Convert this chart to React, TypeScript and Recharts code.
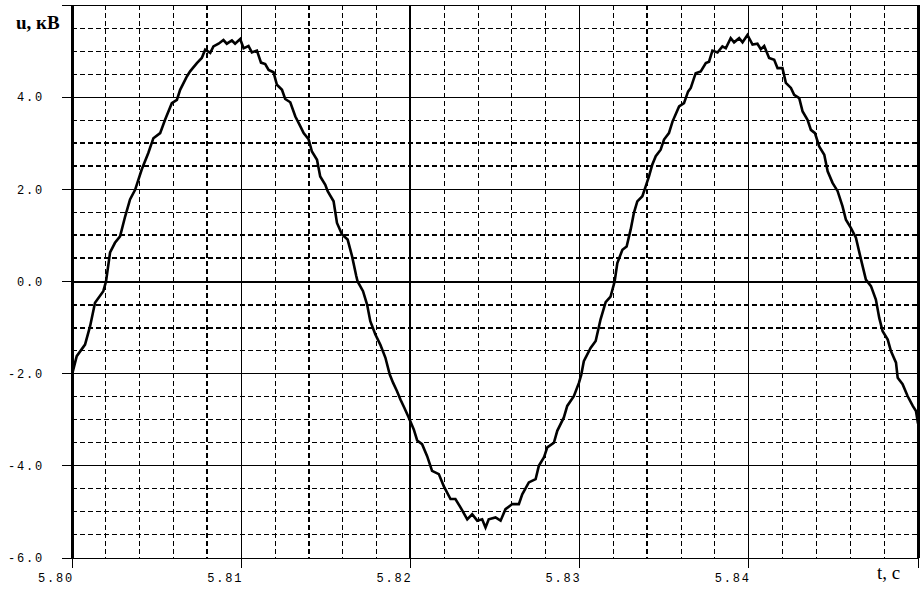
import React from 'react';
import { LineChart, Line, XAxis, YAxis, CartesianGrid } from 'recharts';

// time, s
const times = [
  5.8, 5.80028, 5.80077, 5.80107, 5.80136, 5.80185, 5.80201, 5.80225, 5.80254, 5.80284,
  5.80314, 5.80343, 5.80373, 5.80412, 5.80451, 5.80481, 5.80521, 5.8055, 5.8059, 5.8062,
  5.80639, 5.80679, 5.80698, 5.80738, 5.80767, 5.80787, 5.80817, 5.80836, 5.80866, 5.80895,
  5.80915, 5.80945, 5.80964, 5.80994, 5.81014, 5.81043, 5.81063, 5.81093, 5.81117, 5.81142,
  5.81162, 5.81191, 5.81211, 5.81241, 5.8126, 5.8129, 5.8132, 5.81349, 5.81369, 5.81398,
  5.81418, 5.81448, 5.81467, 5.81497, 5.81511, 5.81546, 5.81566, 5.81596, 5.81629, 5.81655,
  5.8168, 5.81688, 5.8172, 5.81744, 5.81763, 5.81793, 5.81822, 5.81852, 5.81878, 5.81898,
  5.81921, 5.81941, 5.81964, 5.8199, 5.8202, 5.8204, 5.82069, 5.82099, 5.82128, 5.82168,
  5.82197, 5.82237, 5.82266, 5.82296, 5.82336, 5.82365, 5.82395, 5.82424, 5.82444, 5.82463,
  5.82503, 5.82533, 5.82562, 5.82602, 5.82641, 5.82661, 5.827, 5.8274, 5.82759, 5.82789,
  5.82809, 5.82848, 5.82868, 5.82907, 5.82927, 5.82966, 5.82996, 5.8301, 5.83025, 5.83065,
  5.83095, 5.83124, 5.83154, 5.83183, 5.83207, 5.83223, 5.83253, 5.83278, 5.83302, 5.83321,
  5.83341, 5.83371, 5.83391, 5.8341, 5.8343, 5.8345, 5.83479, 5.83499, 5.83528, 5.83549,
  5.83588, 5.83617, 5.83641, 5.83657, 5.83686, 5.83716, 5.83746, 5.83765, 5.83785, 5.83815,
  5.83844, 5.83864, 5.83893, 5.83913, 5.83943, 5.83963, 5.83992, 5.84022, 5.84051, 5.84071,
  5.84091, 5.8412, 5.8415, 5.8417, 5.84199, 5.84219, 5.84249, 5.84268, 5.84298, 5.84318,
  5.84347, 5.84367, 5.84391, 5.84416, 5.84446, 5.84466, 5.84495, 5.84525, 5.84554, 5.84574,
  5.84604, 5.84633, 5.84663, 5.84692, 5.84722, 5.84751, 5.84771, 5.84791, 5.84821, 5.8484,
  5.8487, 5.8488, 5.84909, 5.84939, 5.84969, 5.84988, 5.85,
];

// voltage, kV
const voltage = [
  -2.02, -1.62, -1.37, -0.97, -0.46, -0.21, 0.0, 0.63, 0.84, 0.98,
  1.41, 1.78, 1.99, 2.43, 2.79, 3.11, 3.22, 3.51, 3.87, 3.94,
  4.16, 4.45, 4.56, 4.74, 4.85, 5.03, 4.96, 5.1, 5.16, 5.24,
  5.16, 5.23, 5.16, 5.26, 5.06, 5.11, 4.97, 5.01, 4.75, 4.72,
  4.59, 4.54, 4.27, 4.16, 3.96, 3.89, 3.58, 3.37, 3.22, 3.09,
  2.82, 2.64, 2.28, 2.1, 1.96, 1.74, 1.27, 1.02, 0.91, 0.55,
  0.12, 0.0, -0.21, -0.5, -0.86, -1.15, -1.37, -1.65, -2.02, -2.2,
  -2.38, -2.56, -2.74, -2.95, -3.21, -3.45, -3.53, -3.79, -4.11, -4.18,
  -4.44, -4.72, -4.72, -4.9, -5.16, -5.05, -5.19, -5.16, -5.34, -5.16,
  -5.12, -5.19, -4.94, -4.83, -4.83, -4.62, -4.36, -4.29, -4.0, -3.82,
  -3.6, -3.5, -3.24, -2.95, -2.7, -2.49, -2.2, -2.02, -1.73, -1.44,
  -1.29, -0.82, -0.45, -0.33, 0.0, 0.4, 0.69, 0.76, 1.13, 1.49,
  1.74, 1.85, 2.07, 2.28, 2.54, 2.72, 2.86, 3.08, 3.22, 3.47,
  3.8, 3.87, 4.12, 4.2, 4.52, 4.56, 4.74, 4.77, 5.01, 4.97,
  5.1, 5.06, 5.28, 5.19, 5.28, 5.19, 5.35, 5.14, 5.16, 5.04,
  5.11, 4.85, 4.81, 4.63, 4.63, 4.31, 4.2, 4.05, 3.98, 3.69,
  3.51, 3.29, 3.22, 2.93, 2.75, 2.39, 2.14, 1.96, 1.63, 1.34,
  1.16, 0.95, 0.48, 0.04, -0.1, -0.39, -0.79, -1.08, -1.26, -1.51,
  -1.76, -2.09, -2.23, -2.49, -2.7, -2.81, -3.08,
];

const xTicks = [5.8, 5.81, 5.82, 5.83, 5.84, 5.85];
const xTickLabels = ['5.80', '5.81', '5.82', '5.83', '5.84', ''];
const yTicks = [-6, -4, -2, 0, 2, 4, 6];
const yTickLabels = ['-6.0', '-4.0', '-2.0', '0.0', '2.0', '4.0', ''];

const minorY = [-5.5, -5, -4.5, -3.5, -3, -2.5, -1.5, 1.5, 3.5, 4.5, 5, 5.5];
const boldMinorY = [-1, -0.5, 0.5, 1, 2.5, 3];
const minorX = [
  5.802, 5.804, 5.806, 5.812, 5.816, 5.818, 5.822, 5.824, 5.826, 5.828,
  5.832, 5.836, 5.838, 5.842, 5.844, 5.846, 5.848,
];
const boldMinorX = [5.808, 5.814, 5.834];
const centerX = [5.82];
const centerY = [0];
const rightEdge = [5.85];

const xAxisTitle = 't, c';
const yAxisTitle = 'u, кВ';

const data = times.map((t, i) => ({ t, u: voltage[i] }));

const tickFont = { fontFamily: '"Liberation Mono", "DejaVu Sans Mono", monospace', fontSize: 12, letterSpacing: 1.8 };

const XTick = (props: any) => {
  const { x, y, payload } = props;
  const idx = xTicks.findIndex((v) => Math.abs(v - payload.value) < 1e-9);
  const label = idx >= 0 ? xTickLabels[idx] : '';
  return (
    <text x={x + 2} y={y} dy="0.71em" textAnchor="end" fill="#000" style={tickFont}>
      {label}
    </text>
  );
};

const YTick = (props: any) => {
  const { x, y, payload } = props;
  const idx = yTicks.findIndex((v) => Math.abs(v - payload.value) < 1e-9);
  const label = idx >= 0 ? yTickLabels[idx] : '';
  return (
    <text x={x} y={y} dy="0.36em" textAnchor="end" fill="#000" style={tickFont}>
      {label}
    </text>
  );
};

export default function App() {
  return (
    <div style={{ position: 'absolute', left: 0, top: 0, width: 922, height: 592, background: '#fff' }}>
      <LineChart width={922} height={592} data={data} margin={{ top: 5, right: 4, bottom: 0, left: 0 }}>
        <CartesianGrid stroke="#000" strokeWidth={1} strokeDasharray="5 3" shapeRendering="crispEdges" horizontalValues={minorY} verticalValues={minorX} />
        <CartesianGrid stroke="#000" strokeWidth={2} strokeDasharray="5 3" shapeRendering="crispEdges" horizontalValues={boldMinorY} verticalValues={boldMinorX} />
        <CartesianGrid stroke="#000" strokeWidth={1} shapeRendering="crispEdges" horizontalValues={yTicks} verticalValues={xTicks} />
        <CartesianGrid stroke="#000" strokeWidth={2} shapeRendering="crispEdges" horizontalValues={centerY} verticalValues={centerX} />
        <CartesianGrid stroke="#000" strokeWidth={3} shapeRendering="crispEdges" horizontal={false} verticalValues={rightEdge} />
        <XAxis
          dataKey="t"
          type="number"
          domain={[5.8, 5.85]}
          ticks={xTicks}
          interval={0}
          allowDataOverflow
          height={34}
          tickSize={10}
          tickMargin={5}
          axisLine={{ stroke: '#000', strokeWidth: 1, shapeRendering: 'crispEdges' }}
          tickLine={{ stroke: '#000', strokeWidth: 1, shapeRendering: 'crispEdges' }}
          tick={<XTick />}
        />
        <YAxis
          type="number"
          domain={[-6, 6]}
          ticks={yTicks}
          interval={0}
          allowDataOverflow
          width={72}
          tickSize={10}
          tickMargin={18}
          axisLine={{ stroke: '#000', strokeWidth: 3, shapeRendering: 'crispEdges' }}
          tickLine={{ stroke: '#000', strokeWidth: 1, shapeRendering: 'crispEdges' }}
          tick={<YTick />}
        />
        <Line
          type="linear"
          dataKey="u"
          stroke="#000"
          strokeWidth={2.6}
          dot={false}
          isAnimationActive={false}
        />
      </LineChart>
      <div
        style={{
          position: 'absolute',
          left: 16,
          top: 13,
          fontFamily: '"Liberation Serif", "DejaVu Serif", serif',
          fontSize: 19,
          fontWeight: 'bold',
          lineHeight: '20px',
          whiteSpace: 'nowrap',
        }}
      >
        {yAxisTitle}
      </div>
      <div
        style={{
          position: 'absolute',
          left: 877,
          top: 563,
          fontFamily: '"Liberation Serif", "DejaVu Serif", serif',
          fontSize: 19,
          lineHeight: '20px',
          whiteSpace: 'nowrap',
        }}
      >
        {xAxisTitle}
      </div>
    </div>
  );
}
